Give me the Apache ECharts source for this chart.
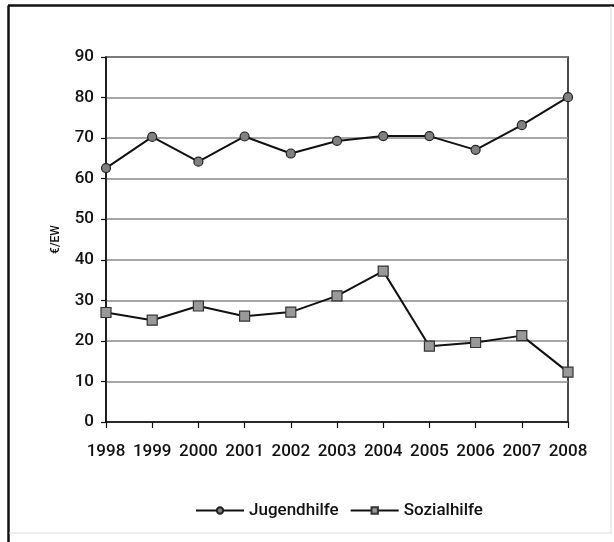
<!DOCTYPE html>
<html>
<head>
<meta charset="utf-8">
<script src="https://cdn.jsdelivr.net/npm/echarts@6/dist/echarts.min.js"></script>
<style>html,body{margin:0;padding:0;background:#fff;}#c{width:614px;height:542px;}</style>
</head>
<body>
<div id="c"></div>
<script>
const years = ['1998','1999','2000','2001','2002','2003','2004','2005','2006','2007','2008'];
const jugendhilfe = [62.6, 70.3, 64.2, 70.4, 66.2, 69.3, 70.5, 70.5, 67.1, 73.2, 80.1];
const sozialhilfe = [27.0, 25.1, 28.6, 26.1, 27.1, 31.1, 37.2, 18.7, 19.6, 21.3, 12.3];
const yTicks = {min: 0, max: 90, interval: 10};
const yName = '€/EW';

const FONT = 'Roboto, "Liberation Sans", sans-serif';
const chart = echarts.init(document.getElementById('c'));
chart.setOption({
  animation: false,
  backgroundColor: '#fff',
  grid: {left: 106, right: 46, top: 57, bottom: 120, show: true, borderColor: '#111', borderWidth: 1.5, backgroundColor: 'transparent'},
  xAxis: {
    type: 'category', data: years, boundaryGap: false,
    axisLine: {lineStyle: {color: '#111', width: 1.5}},
    axisTick: {show: true, length: 6, interval: 0, lineStyle: {color: '#111', width: 1.2}},
    axisLabel: {fontFamily: FONT, fontSize: 17, fontWeight: 500, color: '#111', margin: 21, interval: 0},
    splitLine: {show: false}
  },
  yAxis: {
    type: 'value', min: yTicks.min, max: yTicks.max, interval: yTicks.interval,
    name: yName, nameLocation: 'middle', nameGap: 44, nameRotate: 90,
    nameTextStyle: {fontFamily: FONT, fontSize: 12, fontWeight: 500, color: '#111'},
    axisLine: {show: true, lineStyle: {color: '#111', width: 1.5}},
    axisTick: {show: true, length: 5, lineStyle: {color: '#111', width: 1.2}},
    axisLabel: {fontFamily: FONT, fontSize: 17, fontWeight: 500, color: '#111', margin: 12},
    splitLine: {show: true, lineStyle: {color: '#8a8a8a', width: 1.5}}
  },
  legend: {
    bottom: 18, left: 190, itemWidth: 48, itemHeight: 8, itemGap: 11,
    textStyle: {fontFamily: FONT, fontSize: 17, fontWeight: 500, color: '#111'},
    data: ['Jugendhilfe', 'Sozialhilfe']
  },
  series: [
    {name: 'Jugendhilfe', type: 'line', data: jugendhilfe, symbol: 'circle', symbolSize: 9,
     lineStyle: {color: '#111', width: 2}, itemStyle: {color: '#808080', borderColor: '#222', borderWidth: 1.2}},
    {name: 'Sozialhilfe', type: 'line', data: sozialhilfe, symbol: 'rect', symbolSize: 10,
     lineStyle: {color: '#111', width: 2}, itemStyle: {color: '#999', borderColor: '#333', borderWidth: 1.2}}
  ],
  graphic: [
    {type: 'line', shape: {x1: 8.5, y1: 5.5, x2: 8.5, y2: 542}, style: {stroke: '#111', lineWidth: 2.5}, silent: true},
    {type: 'line', shape: {x1: 8, y1: 5.5, x2: 614, y2: 5.5}, style: {stroke: '#111', lineWidth: 2.5}, silent: true},
    {type: 'line', shape: {x1: 611, y1: 6, x2: 611, y2: 534}, style: {stroke: '#ddd', lineWidth: 1}, silent: true},
    {type: 'line', shape: {x1: 9, y1: 533, x2: 611, y2: 533}, style: {stroke: '#ddd', lineWidth: 1}, silent: true}
  ]
});
</script>
</body>
</html>
